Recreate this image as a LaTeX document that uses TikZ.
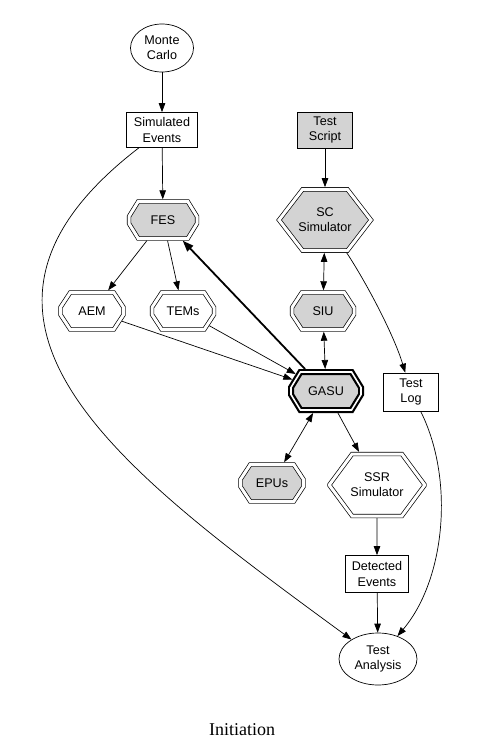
\documentclass[tikz,border=0pt]{standalone}
\usepackage{fontspec}
\setmainfont{Liberation Serif}
\setsansfont{Liberation Sans}
\usetikzlibrary{arrows.meta,shapes.misc,shapes.geometric}
\definecolor{relleno}{HTML}{D3D3D3}

\begin{document}
\begin{tikzpicture}[x=1pt, y=-1pt, font=\sffamily\fontsize{12.6}{15.3}\selectfont,
  caja/.style 2 args={draw, line width=0.7pt, align=center, inner sep=0pt, minimum width=#1, minimum height=#2},
  elipse/.style 2 args={ellipse, draw, line width=0.7pt, align=center, inner sep=0pt, minimum width=#1, minimum height=#2},
  octo/.style n args={5}{chamfered rectangle, draw, double, double distance=3pt, line width=0.7pt, outer sep=2.2pt,
    align=center, inner sep=0pt, minimum width=#1, minimum height=#2,
    chamfered rectangle angle=#5, chamfered rectangle xsep=#3, chamfered rectangle ysep=#4},
  gris/.style={fill=relleno},
  flecha/.style={line width=0.7pt, -{Triangle[length=9pt,width=6.5pt]}},
  doble/.style={line width=0.7pt, {Triangle[length=9pt,width=6.5pt]}-{Triangle[length=9pt,width=6.5pt]}}]
\useasboundingbox (0,0) rectangle (484,752);

\node[elipse={63pt}{48pt}] (mc) at (162,48) {Monte\\Carlo};
\node[caja={71pt}{35pt}] (simev) at (162,130) {Simulated\\Events};
\node[octo={68pt}{37pt}{17pt}{10.5pt}{31.7}, gris] (fes) at (163,220) {FES};
\node[caja={55pt}{36pt}, gris] (script) at (325,130) {Test\\Script};
\node[octo={92pt}{61pt}{24pt}{18.5pt}{37.6}, gris] (scsim) at (325,220) {SC\\Simulator};
\node[octo={63pt}{37pt}{16pt}{10.5pt}{33.3}] (aem) at (92,311) {AEM};
\node[octo={62pt}{37pt}{16pt}{10.5pt}{33.3}] (tems) at (183,311) {TEMs};
\node[octo={62pt}{37pt}{16pt}{10.5pt}{33.3}, gris] (siu) at (323,311) {SIU};
\node[octo={70pt}{38pt}{18pt}{11pt}{31.4}, gris, line width=2.2pt, double distance=1.6pt, outer sep=3pt] (gasu) at (326,391) {GASU};
\node[caja={55pt}{38pt}] (tlog) at (411,392) {Test\\Log};
\node[octo={63pt}{37pt}{16pt}{10.5pt}{33.3}, gris] (epus) at (272,483) {EPUs};
\node[octo={95pt}{62pt}{25pt}{18.5pt}{36.5}] (ssr) at (377,485) {SSR\\Simulator};
\node[caja={63pt}{37pt}] (detev) at (377,574) {Detected\\Events};
\node[elipse={78pt}{52pt}] (ana) at (378,659) {Test\\Analysis};
\node[font=\rmfamily\fontsize{18}{20}\selectfont] (titulo) at (242,730) {Initiation};

\foreach \a/\b in {mc/simev, simev/fes, fes/aem, fes/tems, script/scsim, aem/gasu, tems/gasu, gasu/ssr, ssr/detev, detev/ana}
  \draw[flecha] (\a) -- (\b);
\foreach \a/\b in {scsim/siu, siu/gasu, gasu/epus}
  \draw[doble] (\a) -- (\b);
\draw[line width=1.8pt, -{Triangle[length=11pt,width=8pt]}] (gasu) -- (fes);
\draw[flecha] (simev) .. controls (-85,320) and (120,470) .. (ana);
\draw[flecha] (scsim) .. controls (366,282) and (394,335) .. (tlog);
\draw[flecha] (tlog) .. controls (455,480) and (445,580) .. (ana);
\end{tikzpicture}
\end{document}
